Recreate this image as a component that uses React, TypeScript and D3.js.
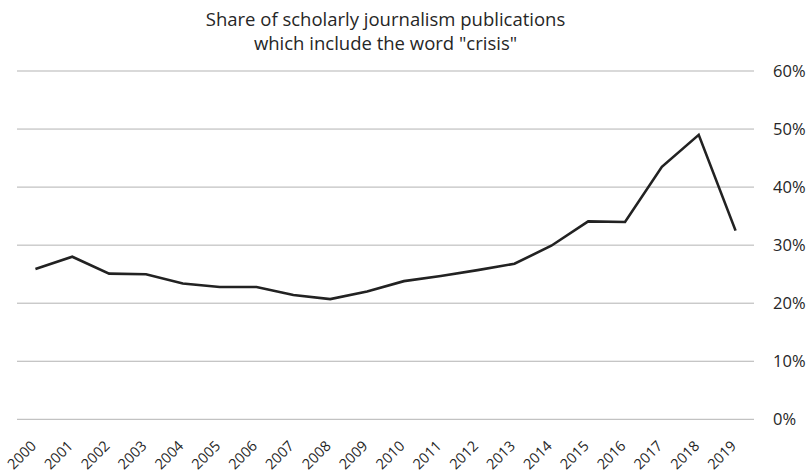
import React from "react";
import * as d3 from "d3";

const years = ["2000","2001","2002","2003","2004","2005","2006","2007","2008","2009","2010","2011","2012","2013","2014","2015","2016","2017","2018","2019"];
const shares = [25.9, 28.0, 25.1, 25.0, 23.4, 22.8, 22.8, 21.4, 20.7, 22.0, 23.8, 24.7, 25.7, 26.8, 29.9, 34.1, 34.0, 43.5, 49.0, 32.5];
const yTicks = [0, 10, 20, 30, 40, 50, 60];
const titleLines = ["Share of scholarly journalism publications", "which include the word \"crisis\""];

const W = 811, H = 473;
const left = 17, right = 754, top = 71, bottom = 419.3;
const font = "'Open Sans', 'Noto Sans', sans-serif";

export default function App() {
  const x = d3.scalePoint<string>().domain(years).range([left, right]).padding(0.5);
  const y = d3.scaleLinear().domain([0, 60]).range([bottom, top]);
  const line = d3.line<number>().x((_, i) => x(years[i]) as number).y(d => y(d));
  const cx = (left + right) / 2;
  return (
    <svg width={W} height={H} style={{ position: "absolute", left: 0, top: 0, background: "#fff" }} fontFamily={font}>
      {titleLines.map((t, i) => (
        <text key={i} x={cx} y={26 + i * 24} textAnchor="middle" fontSize={18.5} fill="#262626">{t}</text>
      ))}
      {yTicks.map(t => (
        <g key={t}>
          <line x1={left} x2={right} y1={y(t)} y2={y(t)} stroke="#b3b3b3" strokeWidth={1} />
          <text x={773} y={y(t)} dy="0.36em" fontSize={16.5} fill="#262626">{t}%</text>
        </g>
      ))}
      <path d={line(shares) || ""} fill="none" stroke="#222" strokeWidth={2.6} strokeLinejoin="miter" />
      {years.map(yr => (
        <text key={yr} transform={`translate(${(x(yr) as number) - 2},${bottom + 24}) rotate(-45)`} textAnchor="end" dy="0.35em" fontSize={14.5} fill="#262626">{yr}</text>
      ))}
    </svg>
  );
}
